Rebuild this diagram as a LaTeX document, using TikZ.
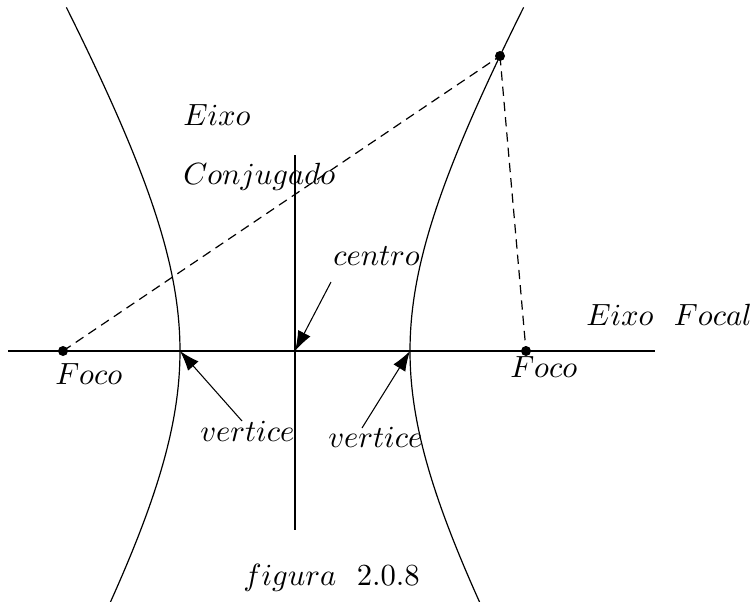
\documentclass[tikz,border=0pt]{standalone}
\usepackage{graphicx}
\usetikzlibrary{arrows.meta}
\newcommand{\bigt}[1]{\scalebox{2.3}{#1}}
\begin{document}
\begin{tikzpicture}[x=0.75pt,y=-0.75pt,
  curve/.style={line width=0.9pt},
  axis/.style={line width=1pt},
  guide/.style={line width=0.9pt,dash pattern=on 7pt off 4.5pt},
  pointer/.style={line width=0.8pt,-{Latex[length=15pt,width=10.5pt]}},
  lbl/.style={inner sep=0pt,anchor=base west},
  dot/.style={circle,fill=black,inner sep=0pt,minimum size=7.5pt}]
\useasboundingbox (0,0) rectangle (751,601);
\begin{scope}
\clip (0,0) rectangle (751,601);
% hyperbola branches: center (295,351), a=115, b=200
\draw[curve] plot[domain=-1.31:1.06,samples=120,smooth] ({295+115*cosh(\x)},{351+200*sinh(\x)});
\draw[curve] plot[domain=-1.31:1.06,samples=120,smooth] ({295-115*cosh(\x)},{351+200*sinh(\x)});
\end{scope}
% axes
\coordinate (hl) at (8,351);
\coordinate (hr) at (655,351);
\coordinate (vt) at (295,155);
\coordinate (vb) at (295,530);
\draw[axis] (hl) -- (hr);
\draw[axis] (vt) -- (vb);
% points
\coordinate (C) at (295,351);
\coordinate (V1) at (180,351);
\coordinate (V2) at (410,351);
\node[dot] (F1) at (63,351) {};
\node[dot] (F2) at (526,351) {};
\node[dot] (P) at (500,56) {};
\draw[guide] (F1.center) -- (P.center);
\draw[guide] (P.center) -- (F2.center);
% labels
\node[lbl] (eixo) at (183,125) {\bigt{$Eixo$}};
\node[lbl] (conj) at (183,184) {\bigt{$Conjugado$}};
\node[lbl] (centro) at (333,265) {\bigt{$centro$}};
\node[lbl] (focal) at (586,325) {\bigt{$Eixo\ \ Focal$}};
\node[lbl] (foco1) at (55,384) {\bigt{$Foco$}};
\node[lbl] (foco2) at (510,377) {\bigt{$Foco$}};
\node[lbl] (vert1) at (200,441) {\bigt{$vertice$}};
\node[lbl] (vert2) at (328,447) {\bigt{$vertice$}};
\node[lbl] (fig) at (243,585) {\bigt{$figura\ \ 2.0.8$}};
% pointers
\coordinate (cs) at (331,282);
\coordinate (v1s) at (242,421);
\coordinate (v2s) at (362,428);
\draw[pointer] (cs) -- (C);
\draw[pointer] (v1s) -- (V1);
\draw[pointer] (v2s) -- (V2);
\end{tikzpicture}
\end{document}
